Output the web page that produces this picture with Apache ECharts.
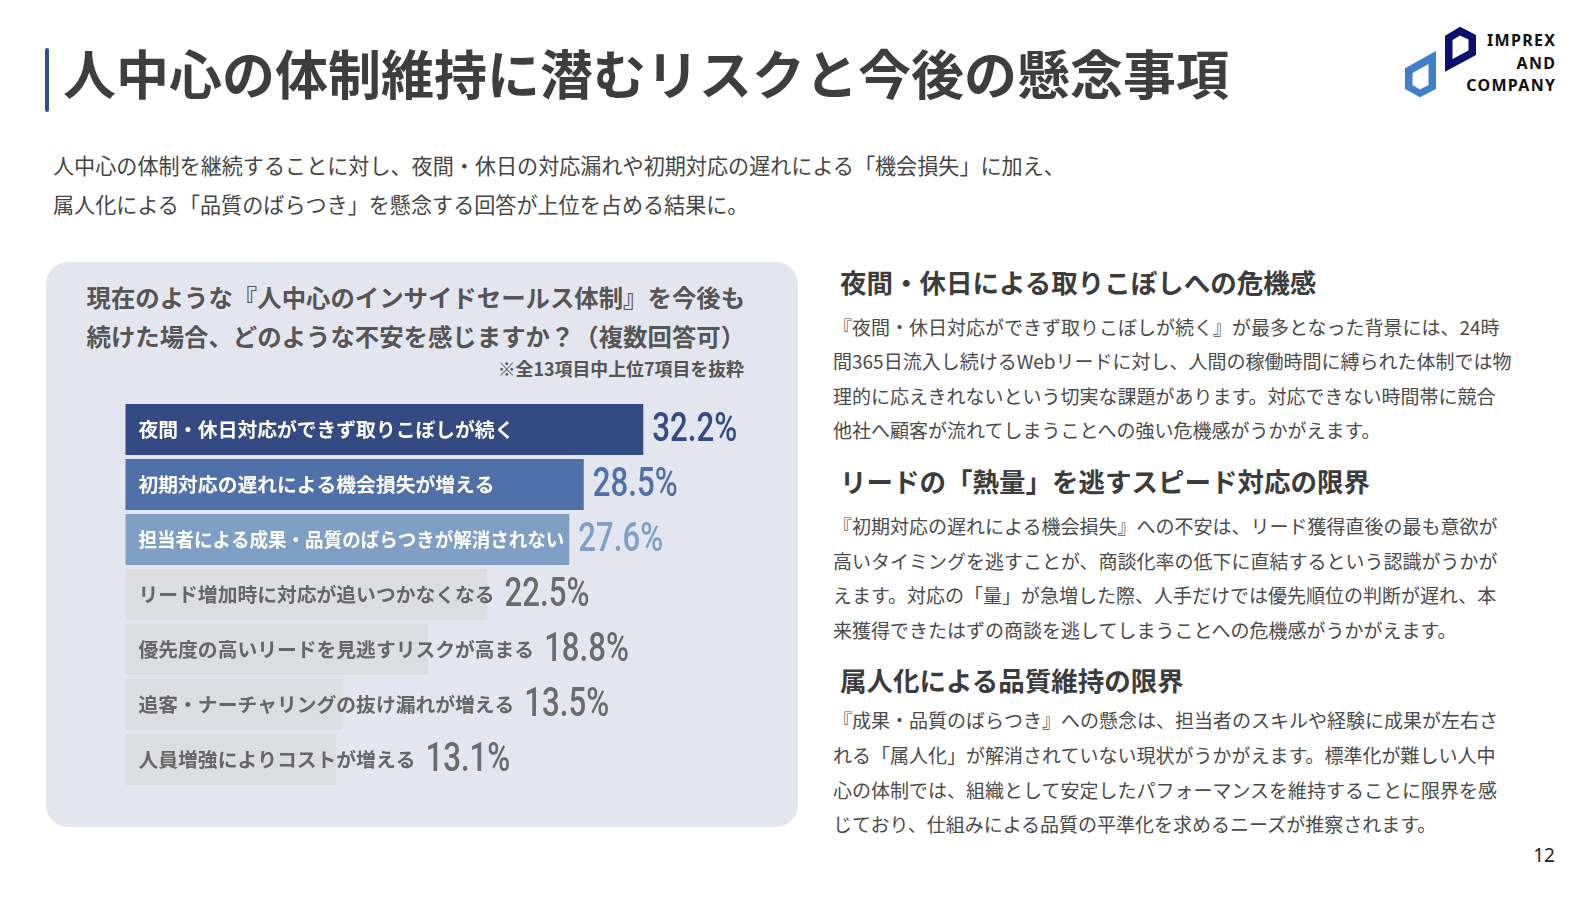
<!DOCTYPE html>
<html lang="ja">
<head>
<meta charset="utf-8">
<title>人中心の体制維持に潜むリスクと今後の懸念事項</title>
<script src="https://cdn.jsdelivr.net/npm/echarts@6.0.0/dist/echarts.min.js"></script>
<style>
  html, body { margin: 0; padding: 0; background: #fff; }
  body { width: 1596px; height: 898px; position: relative; overflow: hidden;
         font-family: "Noto Sans CJK JP", "Noto Sans", sans-serif; color: #404040; }
  .abs { position: absolute; white-space: nowrap; }
  #accent { left: 45px; top: 48px; width: 4px; height: 64px; background: #2f4f8f; border-radius: 2px; }
  #title { left: 63px; top: 46px; font-size: 53px; line-height: 53px; font-weight: 700; color: #3e3e3e; }
  #lead { left: 53px; top: 146px; font-size: 21.1px; line-height: 38.7px; color: #444; }
  #panel { left: 46px; top: 262px; width: 752px; height: 565px; background: #e3e6ef; border-radius: 22px; }
  #q { left: 86.5px; top: 276.5px; font-size: 24.4px; line-height: 39px; font-weight: 700; color: #555; }
  #note { right: 852px; top: 356px; font-size: 17.9px; line-height: 24px; font-weight: 700; color: #555; }
  #chart { left: 46px; top: 262px; width: 752px; height: 565px; }
  .h { left: 840px; font-size: 26.5px; line-height: 34px; font-weight: 700; color: #3c3c3c; }
  .p { left: 833px; font-size: 19px; line-height: 34.6px; color: #4a4a4a; }
  #pageno { right: 41px; top: 843px; font-size: 19px; line-height: 24px; color: #222; font-family: "Noto Sans", sans-serif; }
  .logo { right: 41px; font-family: "Noto Sans", sans-serif; font-weight: 700; font-size: 16px; line-height: 20px;
          letter-spacing: 1.3px; margin-right: -1.3px; color: #111; text-align: right; }
</style>
</head>
<body>
<div class="abs" id="accent"></div>
<div class="abs" id="title">人中心の体制維持に潜むリスクと今後の懸念事項</div>

<svg class="abs" style="left:0;top:0" width="1596" height="120" viewBox="0 0 1596 120">
  <path fill="#3f7fcc" fill-rule="evenodd"
        d="M1405,68.3 L1436,51 L1436,89 L1420,97.3 L1405,89 Z M1412.5,73 L1428.5,64 L1428.5,85 L1420,89.5 L1412.5,85 Z"/>
  <path fill="#0b106e" fill-rule="evenodd"
        d="M1445,35.7 L1460,26.7 L1476,35 L1476,55 L1445,71.7 Z M1452.5,40 L1460,35.5 L1468.5,39.5 L1468.5,50.5 L1452.5,59 Z"/>
</svg>
<div class="abs logo" style="top:30px">IMPREX</div>
<div class="abs logo" style="top:53px">AND</div>
<div class="abs logo" style="top:75px">COMPANY</div>

<div class="abs" id="lead">人中心の体制を継続することに対し、夜間・休日の対応漏れや初期対応の遅れによる「機会損失」に加え、<br>属人化による「品質のばらつき」を懸念する回答が上位を占める結果に。</div>

<div class="abs" id="panel"></div>
<div class="abs" id="q">現在のような『人中心のインサイドセールス体制』を今後も<br>続けた場合、どのような不安を感じますか？（複数回答可）</div>
<div class="abs" id="note">※全13項目中上位7項目を抜粋</div>
<div class="abs" id="chart"></div>

<div class="abs h" style="top:265px">夜間・休日による取りこぼしへの危機感</div>
<div class="abs p" style="top:309.5px">『夜間・休日対応ができず取りこぼしが続く』が最多となった背景には、24時<br>間365日流入し続けるWebリードに対し、人間の稼働時間に縛られた体制では物<br>理的に応えきれないという切実な課題があります。対応できない時間帯に競合<br>他社へ顧客が流れてしまうことへの強い危機感がうかがえます。</div>

<div class="abs h" style="top:463.5px">リードの「熱量」を逃すスピード対応の限界</div>
<div class="abs p" style="top:509px">『初期対応の遅れによる機会損失』への不安は、リード獲得直後の最も意欲が<br>高いタイミングを逃すことが、商談化率の低下に直結するという認識がうかが<br>えます。対応の「量」が急増した際、人手だけでは優先順位の判断が遅れ、本<br>来獲得できたはずの商談を逃してしまうことへの危機感がうかがえます。</div>

<div class="abs h" style="top:663px">属人化による品質維持の限界</div>
<div class="abs p" style="top:703.4px">『成果・品質のばらつき』への懸念は、担当者のスキルや経験に成果が左右さ<br>れる「属人化」が解消されていない現状がうかがえます。標準化が難しい人中<br>心の体制では、組織として安定したパフォーマンスを維持することに限界を感<br>じており、仕組みによる品質の平準化を求めるニーズが推察されます。</div>

<div class="abs" id="pageno">12</div>

<script>
// survey answers, top 7 of 13 (percent of respondents)
const categories = [
    '夜間・休日対応ができず取りこぼしが続く',
    '初期対応の遅れによる機会損失が増える',
    '担当者による成果・品質のばらつきが解消されない',
    'リード増加時に対応が追いつかなくなる',
    '優先度の高いリードを見逃すリスクが高まる',
    '追客・ナーチャリングの抜け漏れが増える',
    '人員増強によりコストが増える'
];
const values = [32.2, 28.5, 27.6, 22.5, 18.8, 13.5, 13.1];

const barColors = ['#344a82', '#4f70a8', '#7f9fc5', '#dcdde1', '#dcdde1', '#dcdde1', '#dcdde1'];
const labelColors = ['#ffffff', '#ffffff', '#ffffff', '#666666', '#666666', '#666666', '#666666'];
const valueColors = ['#344a82', '#4f70a8', '#7f9fc5', '#6b6b6b', '#6b6b6b', '#6b6b6b', '#6b6b6b'];

const CAT_FONT = { size: 19.8, family: '"Noto Sans CJK JP", sans-serif', weight: 'bold' };
const VAL_FONT = { size: 40, family: 'Roboto, sans-serif', weight: 500, squeeze: 0.78 };

const measureCtx = document.createElement('canvas').getContext('2d');
function textWidth(str, f) {
    measureCtx.font = f.weight + ' ' + f.size + 'px ' + f.family;
    return measureCtx.measureText(str).width;
}

function renderBar(params, api) {
    const idx = api.value(0);
    const v = api.value(1);
    const start = api.coord([0, idx]);
    const end = api.coord([v, idx]);
    const band = api.size([0, 1])[1];
    const h = band - 4;
    const barW = end[0] - start[0];
    const pad = 13;

    const label = categories[idx];
    let w = textWidth(label, CAT_FONT);
    let sx = 1;
    // keep white labels inside the coloured bars
    if (idx < 3 && w > barW - pad - 5) {
        sx = (barW - pad - 5) / w;
        w = w * sx;
    }
    const textEnd = start[0] + pad + w;
    const valX = Math.max(end[0] + 9, textEnd + 10);

    return {
        type: 'group',
        children: [
            {
                type: 'rect',
                shape: { x: start[0], y: start[1] - h / 2, width: barW, height: h },
                style: { fill: barColors[idx] }
            },
            {
                type: 'text',
                x: start[0] + pad,
                y: start[1],
                scaleX: sx,
                style: {
                    text: label, fill: labelColors[idx],
                    fontSize: CAT_FONT.size, fontFamily: CAT_FONT.family, fontWeight: CAT_FONT.weight,
                    align: 'left', verticalAlign: 'middle'
                }
            },
            {
                type: 'text',
                x: valX,
                y: start[1] + 1,
                scaleX: VAL_FONT.squeeze,
                style: {
                    text: v.toFixed(1) + '%', fill: valueColors[idx],
                    fontSize: VAL_FONT.size, fontFamily: VAL_FONT.family, fontWeight: VAL_FONT.weight,
                    align: 'left', verticalAlign: 'middle'
                }
            }
        ]
    };
}

const chart = echarts.init(document.getElementById('chart'), null, { renderer: 'canvas' });
chart.setOption({
    animation: false,
    grid: { left: 79.5, top: 140, width: 643.2, height: 385 },
    xAxis: { type: 'value', min: 0, max: 40, show: false },
    yAxis: { type: 'category', data: categories, inverse: true, show: false },
    series: [{
        type: 'custom',
        renderItem: renderBar,
        encode: { x: 1, y: 0 },
        data: values.map((v, i) => [i, v])
    }]
});
</script>
</body>
</html>
